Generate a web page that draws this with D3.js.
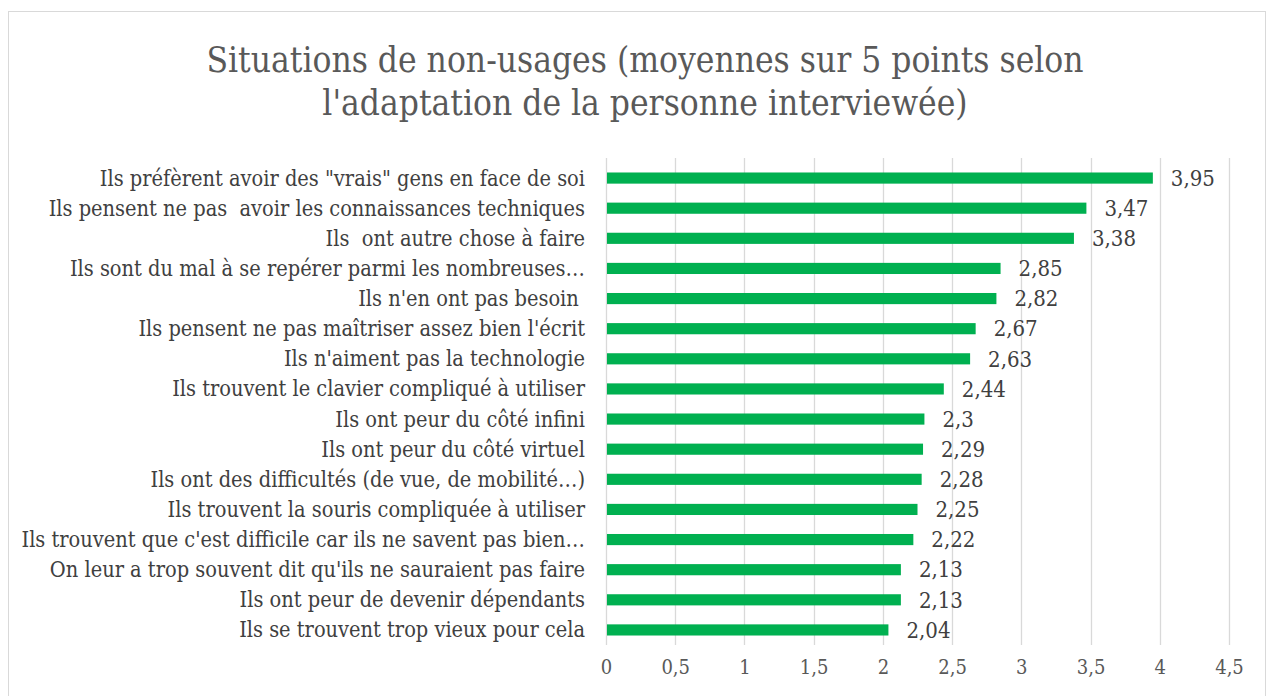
<!DOCTYPE html>
<head>
    <meta charset="utf-8">
    <title>Situations de non-usages</title>
    <style>
        body { margin: 0; background: #fff; }
        text { font-family: "DejaVu Serif Condensed", "DejaVu Serif", serif; font-stretch: condensed; }
        .label { white-space: pre; }
    </style>
</head>
<body>

    <svg width="1268" height="696"></svg>

<script src="https://d3js.org/d3.v7.min.js"></script>

<script>

// donnees
var categories = [
    'Ils préfèrent avoir des "vrais" gens en face de soi',
    'Ils pensent ne pas  avoir les connaissances techniques',
    'Ils  ont autre chose à faire',
    'Ils sont du mal à se repérer parmi les nombreuses…',
    "Ils n'en ont pas besoin ",
    "Ils pensent ne pas maîtriser assez bien l'écrit",
    "Ils n'aiment pas la technologie",
    'Ils trouvent le clavier compliqué à utiliser',
    'Ils ont peur du côté infini',
    'Ils ont peur du côté virtuel',
    'Ils ont des difficultés (de vue, de mobilité…)',
    'Ils trouvent la souris compliquée à utiliser',
    "Ils trouvent que c'est difficile car ils ne savent pas bien…",
    "On leur a trop souvent dit qu'ils ne sauraient pas faire",
    'Ils ont peur de devenir dépendants',
    'Ils se trouvent trop vieux pour cela'
];
var values = [3.95, 3.47, 3.38, 2.85, 2.82, 2.67, 2.63, 2.44, 2.3, 2.29, 2.28, 2.25, 2.22, 2.13, 2.13, 2.04];
var ticks = [0, 0.5, 1, 1.5, 2, 2.5, 3, 3.5, 4, 4.5];
var titleLines = ['Situations de non-usages (moyennes sur 5 points selon', "l'adaptation de la personne interviewée)"];

var svg = d3.select('svg');

// cadre du graphique
svg.append('rect')
    .attr('x', 8.5).attr('y', 11.5)
    .attr('width', 1257).attr('height', 700)
    .attr('fill', '#fff')
    .attr('stroke', '#d9d9d9');

svg.selectAll('.title')
    .data(titleLines)
    .enter().append('text')
        .attr('class', 'title')
        .attr('x', 645)
        .attr('y', (d, i) => 72 + i * 43)
        .attr('text-anchor', 'middle')
        .attr('fill', '#595959')
        .style('font-size', '35px')
        .text(d => d);

var x = d3.scaleLinear()
    .domain([0, 4.5])
    .range([606, 1229]);

var y = d3.scaleBand()
    .domain(categories)
    .range([163, 645])
    .paddingInner(0.63)
    .paddingOuter(0.315);

var fmt = d => String(d).replace('.', ',');

// grille verticale
svg.selectAll('.grid')
    .data(ticks)
    .enter().append('line')
        .attr('class', 'grid')
        .attr('x1', d => Math.round(x(d)) + 0.5)
        .attr('x2', d => Math.round(x(d)) + 0.5)
        .attr('y1', 158)
        .attr('y2', 645)
        .attr('stroke', '#d9d9d9')
        .attr('stroke-width', 1.3);

// axe du bas, sans ligne de domaine
var xAxis = svg.append('g')
    .attr('transform', 'translate(0, 645)')
    .call(d3.axisBottom(x).tickValues(ticks).tickSize(0).tickPadding(15).tickFormat(fmt));
xAxis.select('.domain').remove();
xAxis.selectAll('text')
    .attr('fill', '#595959')
    .style('font-size', '20px')
    .style('font-family', null);

// etiquettes des categories
svg.selectAll('.label')
    .data(categories)
    .enter().append('text')
        .attr('class', 'label')
        .attr('x', 585)
        .attr('y', d => y(d) + y.bandwidth() / 2)
        .attr('dy', '0.35em')
        .attr('text-anchor', 'end')
        .attr('fill', '#404040')
        .style('font-size', '21.6px')
        .text(d => d);

// barres
svg.selectAll('.bar')
    .data(values)
    .enter().append('rect')
        .attr('class', 'bar')
        .attr('x', x(0) + 1)
        .attr('y', (d, i) => y(categories[i]))
        .attr('width', d => x(d) - x(0) - 1)
        .attr('height', y.bandwidth())
        .attr('fill', '#00b050');

// valeurs
svg.selectAll('.value')
    .data(values)
    .enter().append('text')
        .attr('class', 'value')
        .attr('x', d => x(d) + 18)
        .attr('y', (d, i) => y(categories[i]) + y.bandwidth() / 2)
        .attr('dy', '0.35em')
        .attr('fill', '#404040')
        .style('font-size', '22px')
        .text(fmt);

</script>

</body>
